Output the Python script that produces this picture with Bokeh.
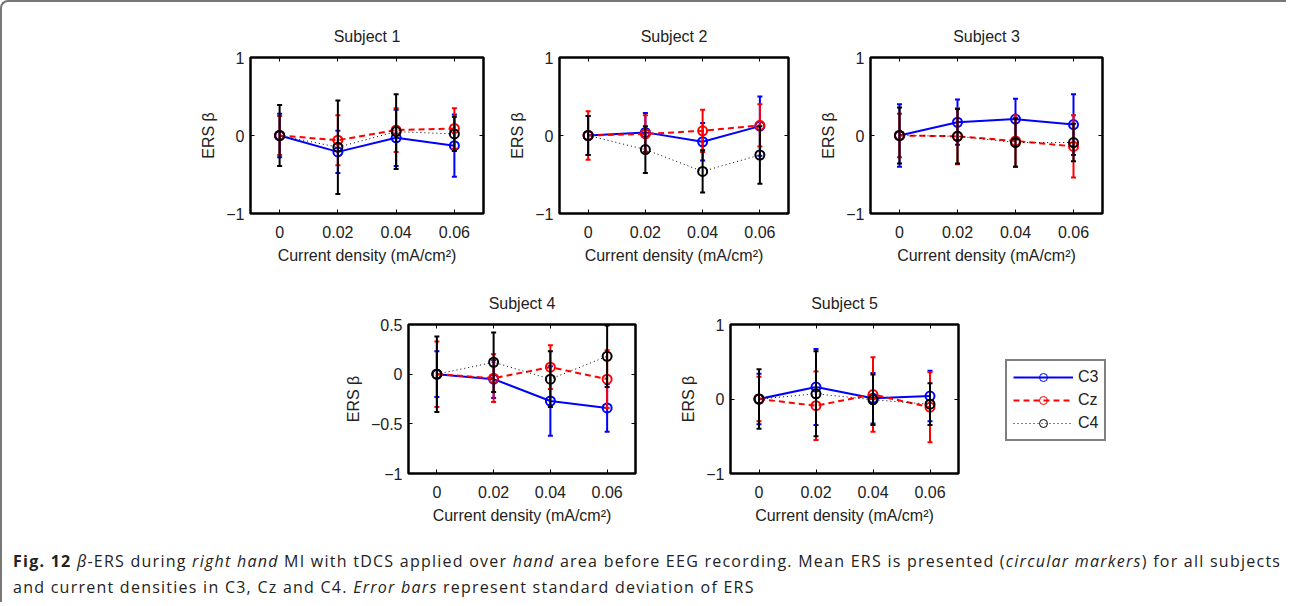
from bokeh.plotting import figure
from bokeh.layouts import column, row
from bokeh.models import (Range1d, FixedTicker, CustomJSTickFormatter, Legend,
                          LegendItem, Div, ColumnDataSource, LinearAxis)
from bokeh.embed import file_html
from bokeh.resources import INLINE

# ---------------- data ----------------
densities = [0, 0.02, 0.04, 0.06]
x_ticks = [0, 0.02, 0.04, 0.06]
channels = ["C3", "Cz", "C4"]

s1_c3 = [0, -0.21, -0.03, -0.13]; s1_c3_sd = [0.28, 0.27, 0.36, 0.40]
s1_cz = [0, -0.06, 0.07, 0.09];   s1_cz_sd = [0.25, 0.32, 0.28, 0.26]
s1_c4 = [0, -0.15, 0.05, 0.02];   s1_c4_sd = [0.39, 0.60, 0.48, 0.22]

s2_c3 = [0, 0.04, -0.08, 0.12];   s2_c3_sd = [0.25, 0.25, 0.24, 0.38]
s2_cz = [0, 0.02, 0.06, 0.13];    s2_cz_sd = [0.31, 0.24, 0.27, 0.27]
s2_c4 = [0, -0.18, -0.46, -0.25]; s2_c4_sd = [0.25, 0.30, 0.27, 0.37]

s3_c3 = [0, 0.17, 0.21, 0.14];    s3_c3_sd = [0.40, 0.29, 0.26, 0.39]
s3_cz = [0, -0.01, -0.07, -0.14]; s3_cz_sd = [0.28, 0.36, 0.33, 0.40]
s3_c4 = [0, -0.01, -0.09, -0.09]; s3_c4_sd = [0.36, 0.35, 0.31, 0.24]

s4_c3 = [0, -0.05, -0.27, -0.34]; s4_c3_sd = [0.23, 0.19, 0.35, 0.24]
s4_cz = [0, -0.04, 0.07, -0.05];  s4_cz_sd = [0.33, 0.24, 0.22, 0.29]
s4_c4 = [0, 0.12, -0.05, 0.18];   s4_c4_sd = [0.38, 0.30, 0.28, 0.31]

s5_c3 = [0, 0.16, 0.01, 0.04];    s5_c3_sd = [0.34, 0.51, 0.34, 0.34]
s5_cz = [0, -0.09, 0.06, -0.11];  s5_cz_sd = [0.30, 0.46, 0.50, 0.47]
s5_c4 = [0, 0.07, -0.01, -0.07];  s5_c4_sd = [0.40, 0.57, 0.34, 0.28]

subjects = [
    ("Subject 1", (s1_c3, s1_c3_sd), (s1_cz, s1_cz_sd), (s1_c4, s1_c4_sd)),
    ("Subject 2", (s2_c3, s2_c3_sd), (s2_cz, s2_cz_sd), (s2_c4, s2_c4_sd)),
    ("Subject 3", (s3_c3, s3_c3_sd), (s3_cz, s3_cz_sd), (s3_c4, s3_c4_sd)),
    ("Subject 4", (s4_c3, s4_c3_sd), (s4_cz, s4_cz_sd), (s4_c4, s4_c4_sd)),
    ("Subject 5", (s5_c3, s5_c3_sd), (s5_cz, s5_cz_sd), (s5_c4, s5_c4_sd)),
]
y_ranges = [(-1, 1), (-1, 1), (-1, 1), (-1, 0.5), (-1, 1)]
y_tick_sets = [[-1, 0, 1], [-1, 0, 1], [-1, 0, 1], [-1, -0.5, 0, 0.5], [-1, 0, 1]]

# ---------------- styles ----------------
FONT = "Liberation Sans"
styles = {
    "C3": dict(color="#0000ff", dash="solid", lw=2, mlw=2),
    "Cz": dict(color="#ff0000", dash="6 4", lw=2, mlw=2),
    "C4": dict(color="#000000", dash="1 3", lw=1, mlw=2),
}

# layout geometry: (min_border_left, frame_w, min_border_right, min_border_top, frame_h, min_border_bottom)
geoms = [
    (248, 233, 12, 53, 158, 61),
    (64, 229, 12, 51, 161, 60),
    (70, 232, 176, 55, 156, 61),
    (406, 227, 12, 45, 154, 61),
    (83, 228, 12, 49, 152, 59),
]

fmt = CustomJSTickFormatter(code="""
const v = Number(tick.toFixed(2));
return (v < 0 ? '\\u2212' : '') + Math.abs(v).toString();
""")


def mirror_axis(ticks):
    ax = LinearAxis(ticker=FixedTicker(ticks=ticks))
    ax.axis_line_color = None
    ax.major_tick_in = 4
    ax.major_tick_out = 0
    ax.minor_tick_line_color = None
    ax.major_label_text_font_size = "0px"
    ax.major_label_standoff = 0
    ax.major_label_text_color = None
    return ax


figs = []
for i, (title, *series) in enumerate(subjects):
    mbl, fw, mbr, mbt, fh, mbb = geoms[i]
    p = figure(width=mbl + fw + mbr, height=mbt + fh + mbb,
               x_range=Range1d(-0.01, 0.07), y_range=Range1d(*y_ranges[i]),
               output_backend="svg", toolbar_location=None,
               min_border_left=mbl, min_border_right=mbr,
               min_border_top=mbt, min_border_bottom=mbb,
               title=title)
    p.title.align = "center"
    p.title.text_font = FONT
    p.title.text_font_size = "16px"
    p.title.text_font_style = "normal"
    p.title.text_color = "#222222"
    p.title.standoff = 25
    p.grid.visible = False
    p.outline_line_color = "black"
    p.outline_line_width = 2.5
    p.background_fill_color = "white"
    p.border_fill_color = None
    for ax in (p.xaxis[0], p.yaxis[0]):
        ax.axis_line_color = None
        ax.major_tick_in = 4
        ax.major_tick_out = 0
        ax.minor_tick_line_color = None
        ax.major_tick_line_color = "black"
        ax.major_label_text_font = FONT
        ax.major_label_text_font_size = "16px"
        ax.major_label_text_color = "#222222"
        ax.axis_label_text_font = FONT
        ax.axis_label_text_font_size = "16px"
        ax.axis_label_text_font_style = "normal"
        ax.axis_label_text_color = "#222222"
        ax.formatter = fmt
    p.xaxis.ticker = FixedTicker(ticks=x_ticks)
    p.yaxis.ticker = FixedTicker(ticks=y_tick_sets[i])
    p.xaxis.axis_label = "Current density (mA/cm\u00b2)"
    p.yaxis.axis_label = "ERS \u03b2"
    p.xaxis.major_label_standoff = 12
    p.xaxis.axis_label_standoff = 6
    p.yaxis.major_label_standoff = 6
    p.yaxis.axis_label_standoff = 6
    p.add_layout(mirror_axis(x_ticks), "above")
    p.add_layout(mirror_axis(y_tick_sets[i]), "right")

    for ch, (vals, sds) in zip(channels, series):
        st = styles[ch]
        src = ColumnDataSource(dict(
            x=densities, y=vals,
            lo=[v - s for v, s in zip(vals, sds)],
            hi=[v + s for v, s in zip(vals, sds)]))
        p.segment(x0="x", y0="lo", x1="x", y1="hi", source=src,
                  line_color=st["color"], line_width=2)
        p.scatter(x="x", y="lo", source=src, marker="dash", size=5,
                  line_color=st["color"], line_width=2)
        p.scatter(x="x", y="hi", source=src, marker="dash", size=5,
                  line_color=st["color"], line_width=2)
        p.line(x="x", y="y", source=src, line_color=st["color"],
               line_width=st["lw"], line_dash=st["dash"])
        p.scatter(x="x", y="y", source=src, marker="circle", size=9,
                  fill_color=None, line_color=st["color"], line_width=st["mlw"])
    figs.append(p)

# legend figure (its renderers sit outside the visible range; only the legend shows)
lp = figure(width=308, height=260, x_range=Range1d(0, 1), y_range=Range1d(0, 1),
            output_backend="svg", toolbar_location=None,
            min_border_left=0, min_border_right=0, min_border_top=50, min_border_bottom=0)
lp.axis.visible = False
lp.grid.visible = False
lp.outline_line_color = None
lp.border_fill_color = None
items = []
for ch in channels:
    st = styles[ch]
    r1 = lp.line(x=[-10, -9], y=[-10, -9], line_color=st["color"],
                 line_width=st["lw"], line_dash=st["dash"])
    r2 = lp.scatter(x=[-10], y=[-10], marker="circle", size=7, fill_color=None,
                    line_color=st["color"], line_width=1)
    items.append(LegendItem(label=ch, renderers=[r1, r2]))
leg = Legend(items=items, location="top_left")
leg.border_line_color = "black"
leg.border_line_width = 2.5
leg.label_text_font = FONT
leg.label_text_font_size = "16px"
leg.label_text_color = "#222222"
leg.glyph_width = 60
leg.glyph_height = 20
leg.label_height = 20
leg.spacing = 3
leg.padding = 6
leg.label_standoff = 5
leg.margin = 35
lp.add_layout(leg, "center")

caption_html = (
    "<b>Fig. 12</b> <i>\u03b2</i>-ERS during <i>right hand</i> MI with tDCS applied over "
    "<i>hand</i> area before EEG recording. Mean ERS is presented (<i>circular markers</i>) "
    "for all subjects<br>and current densities in C3, Cz and C4. <i>Error bars</i> represent "
    "standard deviation of ERS"
)
cap = Div(text=caption_html, width=1274, height=58,
          styles={"font-family": "'Open Sans', sans-serif", "font-size": "16px",
                  "letter-spacing": "1.25px",
                  "line-height": "26px", "padding-left": "6px", "padding-top": "9px",
                  "color": "#222222", "box-sizing": "border-box",
                  "white-space": "nowrap"})

row1 = row(figs[0], figs[1], figs[2], spacing=0)
row2 = row(figs[3], figs[4], lp, spacing=0)
layout = column(row1, row2, cap, spacing=0,
                styles={"border-left": "2px solid #777777", "border-top": "2px solid #777777",
                        "border-top-left-radius": "8px"})

open("out.html", "w").write(file_html(layout, INLINE))
